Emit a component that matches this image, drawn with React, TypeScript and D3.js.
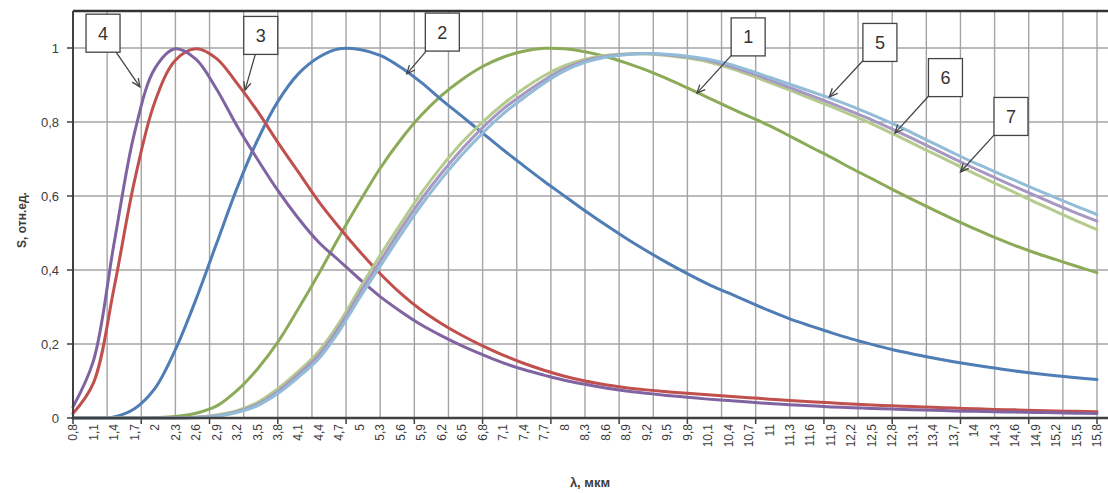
import * as d3 from 'd3';

const W = 1108;
const H = 493;

// wavelength categories, µm (every labelled category on the axis)
const lambda = [
  0.8, 1.1, 1.4, 1.7, 2.0, 2.3, 2.6, 2.9, 3.2, 3.5, 3.8, 4.1, 4.4, 4.7, 5.0, 5.3, 5.6,
  5.9, 6.2, 6.5, 6.8, 7.1, 7.4, 7.7, 8.0, 8.3, 8.6, 8.9, 9.2, 9.5, 9.8, 10.1, 10.4,
  10.7, 11.0, 11.3, 11.6, 11.9, 12.2, 12.5, 12.8, 13.1, 13.4, 13.7, 14.0, 14.3, 14.6,
  14.9, 15.2, 15.5, 15.8,
];

// S, rel. units at each category
const curve1 = [
  0, 0, 0, 0, 0.001, 0.004, 0.013, 0.032, 0.074, 0.132, 0.205, 0.295, 0.39, 0.49, 0.585,
  0.675, 0.752, 0.818, 0.872, 0.915, 0.95, 0.975, 0.991, 0.999, 0.998, 0.99, 0.977, 0.96,
  0.94, 0.917, 0.892, 0.866, 0.84, 0.815, 0.79, 0.762, 0.733, 0.705, 0.675, 0.647, 0.618,
  0.59, 0.563, 0.537, 0.512, 0.488, 0.466, 0.446, 0.428, 0.41, 0.393,
];
const curve2 = [
  0, 0, 0.003, 0.025, 0.08, 0.185, 0.32, 0.47, 0.62, 0.75, 0.855, 0.93, 0.975, 0.998,
  0.996, 0.98, 0.948, 0.907, 0.86, 0.815, 0.77, 0.725, 0.682, 0.64, 0.6, 0.56, 0.522,
  0.486, 0.452, 0.42, 0.39, 0.362, 0.338, 0.314, 0.29, 0.268, 0.249, 0.231, 0.214, 0.199,
  0.185, 0.173, 0.162, 0.152, 0.143, 0.135, 0.127, 0.12, 0.114, 0.109, 0.104,
];
const curve3 = [
  0.012, 0.095, 0.35, 0.64, 0.855, 0.967, 0.998, 0.972, 0.905, 0.83, 0.745, 0.665, 0.585,
  0.515, 0.45, 0.39, 0.337, 0.292, 0.255, 0.223, 0.195, 0.17, 0.148, 0.129, 0.113, 0.1,
  0.09, 0.082, 0.076, 0.071, 0.067, 0.063, 0.059, 0.055, 0.051, 0.047, 0.044, 0.041,
  0.038, 0.035, 0.033, 0.031, 0.029, 0.027, 0.025, 0.023, 0.022, 0.02, 0.019, 0.018, 0.017,
];
const curve4 = [
  0.03, 0.155, 0.47, 0.77, 0.945, 0.998, 0.97, 0.89, 0.79, 0.7, 0.615, 0.54, 0.475, 0.425,
  0.375, 0.328, 0.288, 0.252, 0.222, 0.195, 0.171, 0.149, 0.131, 0.116, 0.102, 0.091,
  0.081, 0.073, 0.067, 0.061, 0.056, 0.051, 0.047, 0.043, 0.039, 0.036, 0.033, 0.03,
  0.028, 0.026, 0.024, 0.022, 0.021, 0.019, 0.018, 0.017, 0.016, 0.015, 0.014, 0.013, 0.012,
];
const curve5 = [
  0, 0, 0, 0, 0, 0, 0.001, 0.005, 0.015, 0.033, 0.066, 0.11, 0.16, 0.235, 0.325, 0.41,
  0.495, 0.575, 0.647, 0.712, 0.77, 0.822, 0.865, 0.905, 0.938, 0.961, 0.975, 0.982,
  0.985, 0.983, 0.978, 0.97, 0.957, 0.94, 0.921, 0.902, 0.883, 0.864, 0.843, 0.82, 0.796,
  0.77, 0.743, 0.716, 0.69, 0.666, 0.642, 0.618, 0.595, 0.572, 0.55,
];
const curve6 = [
  0, 0, 0, 0, 0, 0, 0.002, 0.006, 0.017, 0.037, 0.072, 0.118, 0.17, 0.246, 0.337, 0.424,
  0.51, 0.59, 0.662, 0.727, 0.785, 0.835, 0.876, 0.913, 0.944, 0.965, 0.977, 0.983,
  0.985, 0.982, 0.976, 0.967, 0.952, 0.934, 0.914, 0.893, 0.872, 0.851, 0.829, 0.806,
  0.781, 0.755, 0.728, 0.701, 0.675, 0.65, 0.625, 0.601, 0.577, 0.554, 0.532,
];
const curve7 = [
  0, 0, 0, 0, 0, 0, 0.002, 0.008, 0.02, 0.042, 0.079, 0.126, 0.18, 0.257, 0.35, 0.44,
  0.525, 0.607, 0.68, 0.745, 0.8, 0.848, 0.89, 0.925, 0.952, 0.97, 0.98, 0.984, 0.984,
  0.98, 0.973, 0.963, 0.947, 0.928, 0.907, 0.886, 0.864, 0.842, 0.819, 0.795, 0.769,
  0.742, 0.715, 0.688, 0.661, 0.635, 0.609, 0.583, 0.558, 0.533, 0.509,
];

const yTicks = [0, 0.2, 0.4, 0.6, 0.8, 1];
const yTickLabels = ['0', '0,2', '0,4', '0,6', '0,8', '1'];

// numbered callouts: box centre and arrow tip, in data units (λ, S)
const callouts = [
  { label: '4', box: [1.24, 1.04], tip: [1.78, 0.895] },
  { label: '3', box: [3.55, 1.034], tip: [3.32, 0.886] },
  { label: '2', box: [6.21, 1.043], tip: [5.69, 0.93] },
  { label: '1', box: [10.69, 1.03], tip: [9.94, 0.878] },
  { label: '5', box: [12.62, 1.015], tip: [11.88, 0.868] },
  { label: '6', box: [13.58, 0.92], tip: [12.84, 0.77] },
  { label: '7', box: [14.54, 0.815], tip: [13.8, 0.665] },
];

const series = [
  { id: '1', color: '#8cab58', values: curve1 },
  { id: '2', color: '#4f7db5', values: curve2 },
  { id: '3', color: '#c0504d', values: curve3 },
  { id: '4', color: '#8064a2', values: curve4 },
  { id: '7', color: '#b4cb8d', values: curve7 },
  { id: '6', color: '#a798c3', values: curve6 },
  { id: '5', color: '#93bcd8', values: curve5 },
];

const left = 73;
const top = 11;
const bottom = 418;
const right = W;

const font = '"Liberation Sans", Arial, sans-serif';
const textColor = '#3c3c3c';

export default function App() {
  const x = d3.scaleLinear().domain([0.8, 15.8]).range([left, 1097]);
  const y = d3.scaleLinear().domain([0, 1.1]).range([bottom, top]);

  // gridlines every 0.5 µm, axis ticks every 1 µm (Excel category intervals)
  const vGrid = d3.range(0, 31).map((i) => 0.8 + i * 0.5);
  const xTicks = d3.range(0, 16).map((i) => 0.8 + i);

  const line = d3
    .line<number>()
    .x((_, i) => x(lambda[i]))
    .y((d) => y(d))
    .curve(d3.curveCatmullRom.alpha(0.5));

  const hw = 17;
  const hh = 19;

  return (
    <svg
      width={W}
      height={H}
      style={{ position: 'absolute', left: 0, top: 0, display: 'block', background: '#fff' }}
    >
      <rect x={0} y={0} width={W} height={H} fill="#fff" />

      {/* grid */}
      {vGrid.map((v) => (
        <line key={'vg' + v} x1={x(v)} x2={x(v)} y1={top} y2={bottom} stroke="#a4a4a4" strokeWidth={1.4} />
      ))}
      {yTicks.slice(1).map((v) => (
        <line key={'hg' + v} x1={left} x2={right} y1={y(v)} y2={y(v)} stroke="#a4a4a4" strokeWidth={1.4} />
      ))}

      {/* curves */}
      {series.map((s) => (
        <path
          key={s.id}
          d={line(s.values) || ''}
          fill="none"
          stroke={s.color}
          strokeWidth={3}
          strokeLinejoin="round"
          strokeLinecap="round"
        />
      ))}

      {/* plot frame and axes */}
      <line x1={left} x2={right} y1={top} y2={top} stroke="#333" strokeWidth={2.5} />
      <line x1={left} x2={left} y1={top} y2={bottom} stroke="#404040" strokeWidth={2} />
      <line x1={left - 1} x2={right} y1={bottom} y2={bottom} stroke="#404040" strokeWidth={2.5} />

      {yTicks.map((v, i) => (
        <g key={'yt' + v}>
          <line x1={left - 6} x2={left} y1={y(v)} y2={y(v)} stroke="#404040" strokeWidth={1.5} />
          <text
            x={left - 14}
            y={y(v)}
            dy="0.35em"
            textAnchor="end"
            fontFamily={font}
            fontSize={13}
            fill={textColor}
          >
            {yTickLabels[i]}
          </text>
        </g>
      ))}

      {xTicks.map((v) => (
        <line key={'xt' + v} x1={x(v)} x2={x(v)} y1={bottom} y2={bottom + 6} stroke="#404040" strokeWidth={1.5} />
      ))}
      {lambda.map((v) => (
        <text
          key={'xl' + v}
          transform={`translate(${x(v)},${bottom + 6}) rotate(-90)`}
          dy="0.35em"
          textAnchor="end"
          fontFamily={font}
          fontSize={12}
          fill={textColor}
        >
          {String(v).replace('.', ',')}
        </text>
      ))}

      {/* axis titles */}
      <text
        x={590}
        y={487}
        textAnchor="middle"
        fontFamily={font}
        fontSize={13}
        fontWeight="bold"
        fill={textColor}
      >
        λ, мкм
      </text>
      <text
        transform="translate(22,220) rotate(-90)"
        dy="0.35em"
        textAnchor="middle"
        fontFamily={font}
        fontSize={12}
        fontWeight="bold"
        fill={textColor}
      >
        S, отн.ед.
      </text>

      {/* callouts */}
      {callouts.map((c) => {
        const cx = x(c.box[0]);
        const cy = y(c.box[1]);
        const tx = x(c.tip[0]);
        const ty = y(c.tip[1]);
        const dx = tx - cx;
        const dy = ty - cy;
        const t = Math.min(hw / Math.abs(dx || 1e-6), hh / Math.abs(dy || 1e-6));
        const sx = cx + dx * t;
        const sy = cy + dy * t;
        const a = Math.atan2(ty - sy, tx - sx);
        const hl = 9;
        const p1 = [tx - hl * Math.cos(a - 0.42), ty - hl * Math.sin(a - 0.42)];
        const p2 = [tx - hl * Math.cos(a + 0.42), ty - hl * Math.sin(a + 0.42)];
        return (
          <g key={'c' + c.label}>
            <line x1={sx} y1={sy} x2={tx} y2={ty} stroke="#444" strokeWidth={1.3} />
            <polyline
              points={`${p1[0]},${p1[1]} ${tx},${ty} ${p2[0]},${p2[1]}`}
              fill="none"
              stroke="#444"
              strokeWidth={1.3}
            />
            <rect x={cx - hw} y={cy - hh} width={hw * 2} height={hh * 2} fill="#fff" stroke="#444" strokeWidth={1.3} />
            <text
              x={cx}
              y={cy}
              dy="0.36em"
              textAnchor="middle"
              fontFamily={font}
              fontSize={18}
              fill="#333"
            >
              {c.label}
            </text>
          </g>
        );
      })}
    </svg>
  );
}
